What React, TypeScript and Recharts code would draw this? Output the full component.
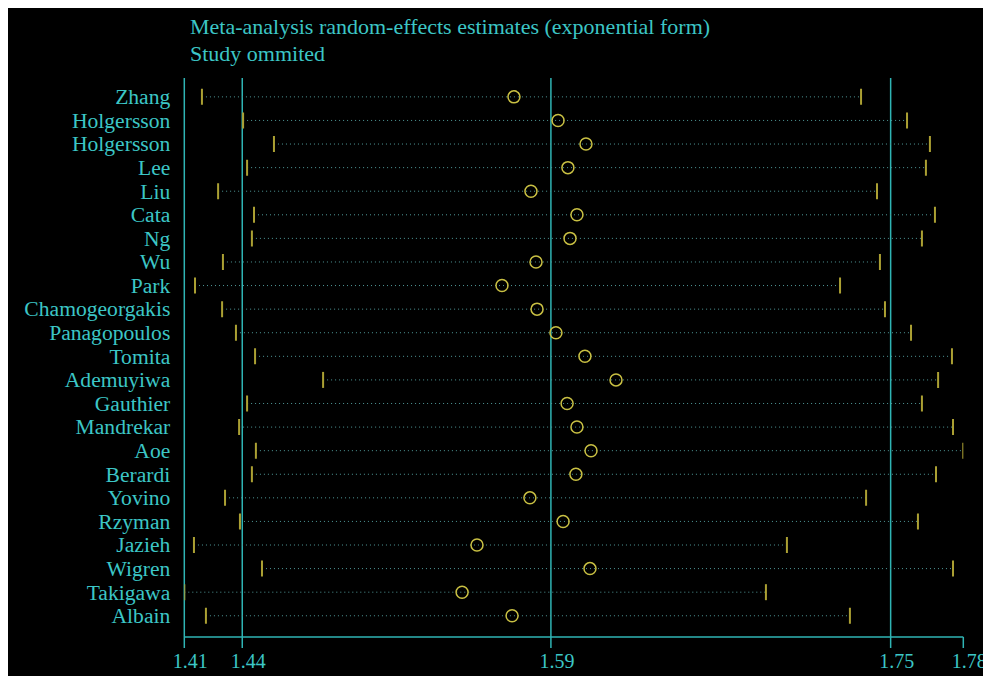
import React from "react";
import {
  ComposedChart,
  Scatter,
  XAxis,
  YAxis,
  ReferenceLine,
} from "recharts";

// study omitted (one per row, top to bottom)
const studies = [
  "Zhang",
  "Holgersson",
  "Holgersson",
  "Lee",
  "Liu",
  "Cata",
  "Ng",
  "Wu",
  "Park",
  "Chamogeorgakis",
  "Panagopoulos",
  "Tomita",
  "Ademuyiwa",
  "Gauthier",
  "Mandrekar",
  "Aoe",
  "Berardi",
  "Yovino",
  "Rzyman",
  "Jazieh",
  "Wigren",
  "Takigawa",
  "Albain",
];

const lower = [
  1.4204, 1.44, 1.4547, 1.4419, 1.4281, 1.4452, 1.4442, 1.4304, 1.4171, 1.43,
  1.4366, 1.4457, 1.4781, 1.4419, 1.4381, 1.4461, 1.4442, 1.4314, 1.4385,
  1.4166, 1.449, 1.412, 1.4223,
];

const estimate = [
  1.569, 1.59, 1.6033, 1.5947, 1.5771, 1.599, 1.5957, 1.5795, 1.5633, 1.58,
  1.589, 1.6028, 1.6176, 1.5943, 1.599, 1.6057, 1.5985, 1.5766, 1.5924,
  1.5514, 1.6052, 1.5443, 1.5681,
];

const upper = [
  1.7343, 1.7562, 1.7671, 1.7652, 1.7419, 1.7695, 1.7633, 1.7433, 1.7243,
  1.7457, 1.7581, 1.7776, 1.771, 1.7633, 1.7781, 1.783, 1.77, 1.7367, 1.7614,
  1.699, 1.7781, 1.689, 1.729,
];

// overall estimate and its CI (vertical lines)
const overall = [1.4396, 1.5866, 1.7484];
const xTicks = [1.412, 1.4396, 1.5866, 1.7484, 1.783];
const titleLines = [
  "Meta-analysis random-effects estimates (exponential form)",
  "Study ommited",
];

const CYAN = "#3cc6c6";
const AXIS = "#2fb4b4";
const YELLOW = "#c9c043";
const OLIVE = "#aba033";
const DOTS = "#4f9797";
const FONT = "'Liberation Serif', 'Times New Roman', serif";

const rows = studies.map((_, i) => i + 1);
const estData = estimate.map((v, i) => ({ x: v, y: i + 1 }));

const CapShape = (props: any) => {
  const { cx, cy } = props;
  return (
    <line
      x1={cx}
      x2={cx}
      y1={cy - 8}
      y2={cy + 8}
      stroke={OLIVE}
      strokeWidth={2}
    />
  );
};

const CircleShape = (props: any) => {
  const { cx, cy } = props;
  return (
    <circle
      cx={cx}
      cy={cy}
      r={6}
      fill="none"
      stroke={YELLOW}
      strokeWidth={1.5}
    />
  );
};

const NameTick = ({ x, y, payload }: any) => (
  <text
    x={x}
    y={y}
    dy="0.34em"
    textAnchor="end"
    fill={CYAN}
    fontSize={21.6}
    fontFamily={FONT}
  >
    {studies[payload.value - 1]}
  </text>
);

const ValueTick = ({ x, y, payload }: any) => (
  <text
    x={x + 6}
    y={y + 20}
    textAnchor="middle"
    fill={CYAN}
    fontSize={20}
    fontFamily={FONT}
  >
    {Number(payload.value).toFixed(2)}
  </text>
);

export default function App() {
  return (
    <div
      style={{
        position: "fixed",
        left: 8,
        top: 8,
        width: 975,
        height: 668,
        background: "#000",
        overflow: "visible",
      }}
    >
      <style>{"html{overflow:hidden}"}</style>
      {titleLines.map((t, i) => (
        <div
          key={i}
          style={{
            position: "absolute",
            left: 182,
            top: 7 + i * 27,
            color: CYAN,
            fontFamily: FONT,
            fontSize: 22,
            lineHeight: "24px",
            whiteSpace: "nowrap",
          }}
        >
          {t}
        </div>
      ))}
      <ComposedChart
        width={975}
        height={668}
        margin={{ top: 70, right: 19.7, bottom: 0, left: 0 }}
        style={{ overflow: "visible" }}
      >
        <XAxis
          type="number"
          dataKey="x"
          domain={[xTicks[0], xTicks[xTicks.length - 1]]}
          ticks={xTicks}
          interval={0}
          allowDataOverflow
          height={39}
          stroke={AXIS}
          strokeWidth={1.5}
          tickSize={11}
          tickMargin={0}
          tick={<ValueTick />}
        />
        <YAxis
          type="number"
          dataKey="y"
          domain={[0.2, 23.9]}
          reversed
          ticks={rows}
          interval={0}
          allowDataOverflow
          width={176.3}
          stroke={AXIS}
          strokeWidth={1.5}
          tickLine={false}
          tickSize={0}
          tickMargin={14}
          tick={<NameTick />}
        />
        {overall.map((v, i) => (
          <ReferenceLine
            key={i}
            x={v}
            stroke={AXIS}
            strokeWidth={1.5}
            ifOverflow="visible"
          />
        ))}
        {studies.map((name, i) => (
          <Scatter
            key={i}
            name={name}
            data={[
              { x: lower[i], y: i + 1 },
              { x: upper[i], y: i + 1 },
            ]}
            line={{ stroke: DOTS, strokeWidth: 1, strokeDasharray: "1 3" }}
            shape={<CapShape />}
            isAnimationActive={false}
          />
        ))}
        <Scatter
          data={estData}
          shape={<CircleShape />}
          isAnimationActive={false}
        />
      </ComposedChart>
    </div>
  );
}
